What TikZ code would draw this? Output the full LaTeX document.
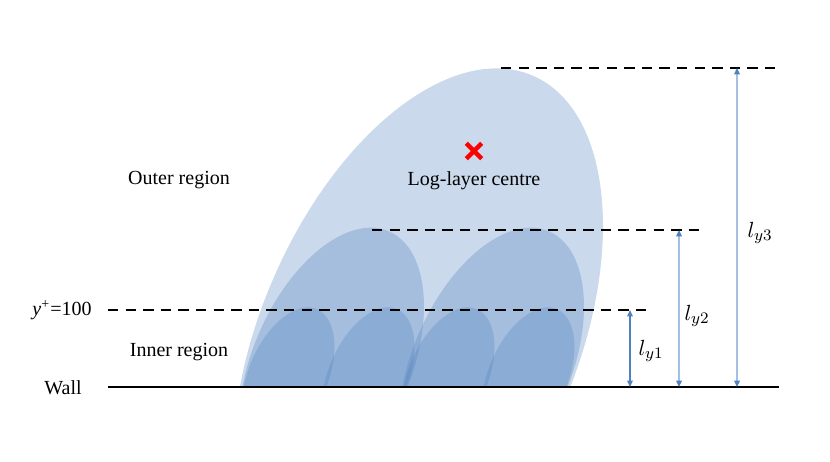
\documentclass[tikz,border=0pt]{standalone}
\usepackage{fontspec}
\setmainfont{Liberation Serif}
\usetikzlibrary{arrows.meta,shapes.misc}
\definecolor{eddyblue}{HTML}{4F81BD}
\definecolor{arrowlight}{HTML}{A3BFE2}
\definecolor{arrowdark}{HTML}{4F81BD}
\newcommand{\eddyshape}[2]{%
  \pgfmathsetmacro{\ecx}{#1+173*#2}%
  \pgfmathsetmacro{\ecy}{74+45*#2}%
  \pgfmathsetmacro{\era}{290*#2}%
  \pgfmathsetmacro{\erb}{158*#2}%
  \fill[eddyfill, rotate around={66.7:(\ecx,\ecy)}] (\ecx,\ecy) ellipse [x radius=\era, y radius=\erb];}
\tikzset{
  eddyfill/.style={fill=eddyblue, fill opacity=0.3},
  levelline/.style={line width=1.45pt, dash pattern=on 5.2pt off 3.6pt},
  wallline/.style={line width=1.2pt},
  lab/.style={font=\fontsize{10}{12}\selectfont, inner sep=0pt},
  mlab/.style={font=\fontsize{11}{13}\selectfont, inner sep=0pt},
  darkarrow/.style={draw=arrowdark, line width=0.6pt, {Triangle[length=3.2pt,width=2.8pt]}-{Triangle[length=3.2pt,width=2.8pt]}},
  lightarrow/.style={draw=arrowlight, line width=0.9pt, {Triangle[length=3.2pt,width=2.8pt,color=arrowdark]}-{Triangle[length=3.2pt,width=2.8pt,color=arrowdark]}},
}
\begin{document}
\begin{tikzpicture}[x=0.5pt,y=0.5pt]
\useasboundingbox (0,0) rectangle (830,461);
% eddies
\begin{scope}
  \clip (0,74) rectangle (830,461);
  \eddyshape{245}{1}
  \eddyshape{245}{0.5}
  \eddyshape{405}{0.5}
  \eddyshape{245}{0.25}
  \eddyshape{325}{0.25}
  \eddyshape{405}{0.25}
  \eddyshape{485}{0.25}
\end{scope}
% coordinates
\coordinate (w0) at (108,74);
\coordinate (w1) at (779,74);
\coordinate (d1a) at (108,151);
\coordinate (d1b) at (652,151);
\coordinate (d2a) at (372,231);
\coordinate (d2b) at (703,231);
\coordinate (d3a) at (501,393);
\coordinate (d3b) at (776,393);
\coordinate (a1t) at (630,151);
\coordinate (a1b) at (630,74);
\coordinate (a2t) at (679,231);
\coordinate (a2b) at (679,74);
\coordinate (a3t) at (737,393);
\coordinate (a3b) at (737,74);
% lines
\draw[levelline] (d1a) -- (d1b);
\draw[levelline] (d2a) -- (d2b);
\draw[levelline] (d3a) -- (d3b);
\draw[wallline] (w0) -- (w1);
% arrows
\draw[darkarrow] (a1b) -- (a1t);
\draw[lightarrow] (a2b) -- (a2t);
\draw[lightarrow] (a3b) -- (a3t);
% labels
\node[mlab] (ly1) at (651,110) {$l_{y1}$};
\node[mlab] (ly2) at (697,145) {$l_{y2}$};
\node[mlab] (ly3) at (760,228) {$l_{y3}$};
\node[lab] (outer) at (179,281) {Outer region};
\node[lab] (loglayer) at (474,280) {Log-layer centre};
\node[lab] (inner) at (179,109) {Inner region};
\node[lab] (yplus) at (62,151) {\textit{y}\textsuperscript{+}=100};
\node[lab] (wall) at (63,73) {Wall};
\node[cross out, draw=red, line width=2.2pt, minimum size=5.5pt, inner sep=0pt] (centre) at (474,310) {};
\end{tikzpicture}
\end{document}
